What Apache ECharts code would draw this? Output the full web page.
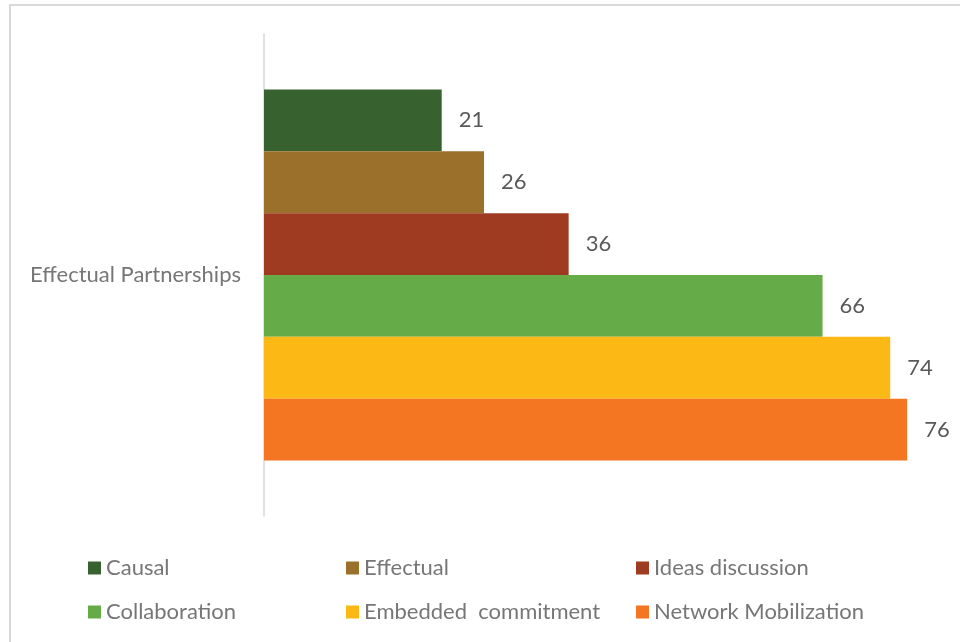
<!DOCTYPE html>
<html><head><meta charset="utf-8">
<script src="https://cdn.jsdelivr.net/npm/echarts@6/dist/echarts.min.js"></script>
<style>html,body{margin:0;padding:0;background:#fff}#c{width:960px;height:642px}</style>
</head><body><div id="c"></div>
<script>
var categories = ['Effectual Partnerships'];
var seriesNames = ['Causal', 'Effectual', 'Ideas discussion', 'Collaboration', 'Embedded  commitment', 'Network Mobilization'];
var seriesValues = [[21], [26], [36], [66], [74], [76]];
var colors = ['#376230', '#9a702b', '#9e3b20', '#65ab47', '#fcb916', '#f47522'];

var chart = echarts.init(document.getElementById('c'));
var font = 'Lato';
var fs = 22;
var series = seriesNames.map(function (n, i) {
  return {
    name: n, type: 'bar', data: seriesValues[i], barGap: '0%', barCategoryGap: '23%',
    itemStyle: { color: colors[i] },
    label: { show: true, position: 'right', distance: 17, color: '#595959', fontSize: fs, fontFamily: font }
  };
});
var legendLefts = [88, 346, 636];
var legendTops = [557, 601];
var legends = seriesNames.map(function (n, i) {
  return {
    data: [n], top: legendTops[Math.floor(i / 3)], left: legendLefts[i % 3], padding: 0,
    itemWidth: 13, itemHeight: 13, icon: 'rect',
    textStyle: { color: '#767676', fontSize: fs, fontFamily: font }
  };
});
chart.setOption({
  animation: false,
  textStyle: { fontFamily: font },
  graphic: [{ type: 'rect', shape: { x: 10, y: 5, width: 1000, height: 1000 }, style: { fill: 'none', stroke: '#d9d9d9', lineWidth: 2 }, silent: true }],
  legend: legends,
  grid: { left: 264, right: 19, top: 34, bottom: 126, containLabel: false },
  xAxis: { type: 'value', min: 0, max: 80, show: false },
  yAxis: {
    type: 'category', data: categories, inverse: true,
    axisLine: { show: true, lineStyle: { color: '#d9d9d9', width: 1.5 } },
    axisTick: { show: false },
    axisLabel: { color: '#767676', fontSize: fs, fontFamily: font, margin: 23 }
  },
  series: series
});
</script></body></html>
